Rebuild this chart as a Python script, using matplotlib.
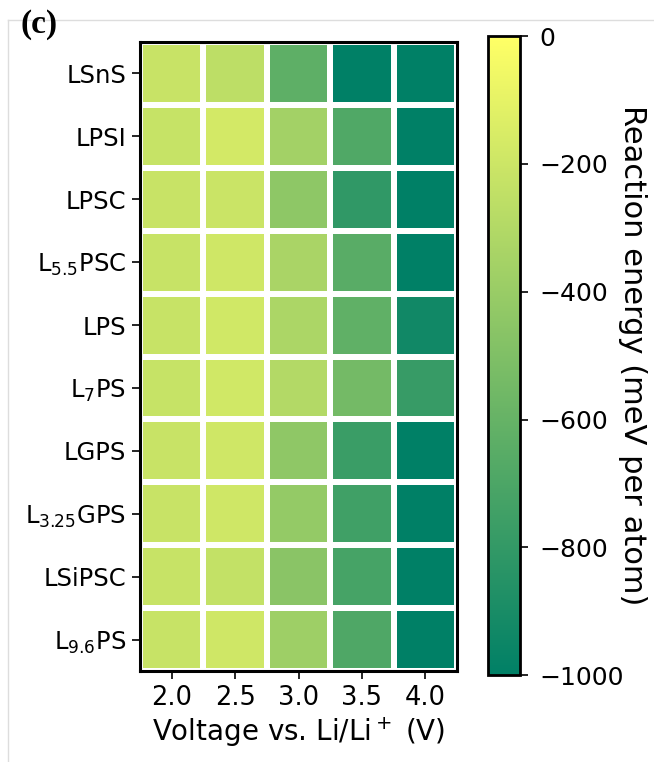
import numpy as np
import matplotlib
matplotlib.use("Agg")
import matplotlib.pyplot as plt
from matplotlib.lines import Line2D

voltages = ["2.0", "2.5", "3.0", "3.5", "4.0"]
materials = ["LSnS", "LPSI", "LPSC", "L$_{5.5}$PSC", "LPS", "L$_{7}$PS",
             "LGPS", "L$_{3.25}$GPS", "LSiPSC", "L$_{9.6}$PS"]

# reaction energy (meV/atom), one row per material, columns follow voltages
e_LSnS = [-215, -260, -630, -1000, -1000]
e_LPSI = [-225, -175, -360, -685, -1000]
e_LPSC = [-215, -210, -445, -810, -1000]
e_L55PSC = [-220, -190, -335, -650, -1000]
e_LPS = [-220, -185, -325, -625, -930]
e_L7PS = [-225, -185, -300, -545, -785]
e_LGPS = [-215, -190, -440, -770, -1000]
e_L325GPS = [-215, -190, -420, -750, -1000]
e_LSiPSC = [-220, -235, -460, -725, -1000]
e_L96PS = [-220, -190, -380, -690, -1000]

energy = np.array([e_LSnS, e_LPSI, e_LPSC, e_L55PSC, e_LPS, e_L7PS,
                   e_LGPS, e_L325GPS, e_LSiPSC, e_L96PS])

fig = plt.figure(figsize=(6.54, 7.62), dpi=100)
ax = fig.add_axes([0.214, 0.1194, 0.485, 0.8255])
cax = fig.add_axes([0.746, 0.114, 0.049, 0.8386])

mesh = ax.pcolormesh(np.arange(len(voltages) + 1), np.arange(len(materials) + 1),
                     energy, cmap="summer", vmin=-1000, vmax=0,
                     edgecolors="white", linewidth=3)
ax.set_xlim(0, len(voltages))
ax.set_ylim(len(materials), 0)
ax.set_xticks(np.arange(len(voltages)) + 0.5)
ax.set_xticklabels(voltages)
ax.set_yticks(np.arange(len(materials)) + 0.5)
ax.set_yticklabels(materials)
ax.tick_params(axis="y", labelsize=17.5, length=6, width=1.2, pad=4)
ax.tick_params(axis="x", labelsize=18.5, length=6, width=1.2, pad=4)
for s in ax.spines.values():
    s.set_linewidth(2.2)
ax.set_xlabel("Voltage vs. Li/Li$^+$ (V)", fontsize=20, labelpad=3)

cb = fig.colorbar(mesh, cax=cax, ticks=[0, -200, -400, -600, -800, -1000])
cb.outline.set_linewidth(2)
cb.ax.tick_params(labelsize=18, length=6, width=1.2, pad=8)
fig.text(632 / 654, 0.534, "Reaction energy (meV per atom)", fontsize=22,
         rotation=270, ha="center", va="center")

# light panel frame and panel tag
fig.add_artist(Line2D([8 / 654, 1], [1 - 20 / 762, 1 - 20 / 762],
                      color="#dddddd", lw=1, transform=fig.transFigure))
fig.add_artist(Line2D([8 / 654, 8 / 654], [0, 1 - 20 / 762],
                      color="#dddddd", lw=1, transform=fig.transFigure))
fig.text(20 / 654, 1 - 9 / 762, "(c)", family="Liberation Serif",
         fontsize=24, fontweight="bold", va="top", ha="left")

fig.savefig("out.png", dpi=100)
